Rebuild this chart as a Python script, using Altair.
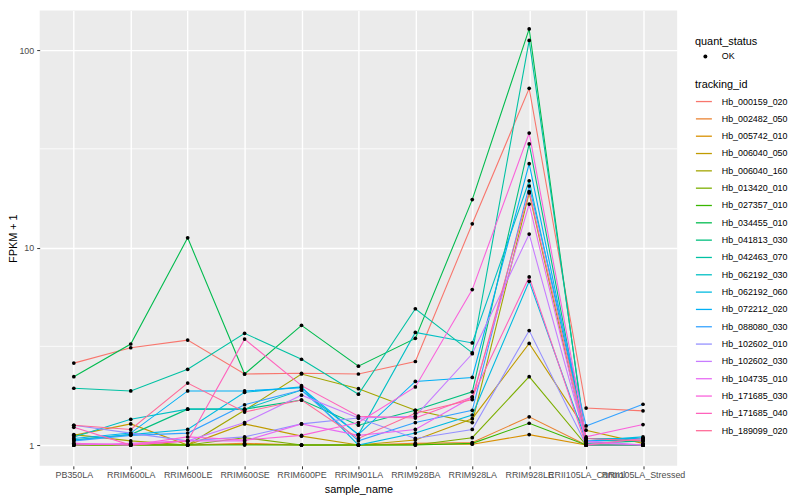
import math
import altair as alt
import pandas as pd

samples = ["PB350LA", "RRIM600LA", "RRIM600LE", "RRIM600SE", "RRIM600PE", "RRIM901LA",
           "RRIM928BA", "RRIM928LA", "RRIM928LE", "RRII105LA_Control", "RRII105LA_Stressed"]

tracking_ids = ["Hb_000159_020", "Hb_002482_050", "Hb_005742_010", "Hb_006040_050",
                "Hb_006040_160", "Hb_013420_010", "Hb_027357_010", "Hb_034455_010",
                "Hb_041813_030", "Hb_042463_070", "Hb_062192_030", "Hb_062192_060",
                "Hb_072212_020", "Hb_088080_030", "Hb_102602_010", "Hb_102602_030",
                "Hb_104735_010", "Hb_171685_030", "Hb_171685_040", "Hb_189099_020"]

# FPKM + 1 per tracking id, in sample order
s000159_020 = [2.60, 3.11, 3.40, 2.29, 2.31, 2.29, 2.65, 13.2, 64.0, 1.54, 1.49]
s002482_050 = [1.00, 1.01, 1.00, 1.02, 1.00, 1.00, 1.02, 1.03, 1.39, 1.00, 1.00]
s005742_010 = [1.00, 1.00, 1.00, 1.01, 1.00, 1.00, 1.01, 1.01, 1.13, 1.00, 1.00]
s006040_050 = [1.12, 1.28, 1.00, 1.28, 1.11, 1.00, 1.06, 1.36, 3.27, 1.19, 1.02]
s006040_160 = [1.13, 1.05, 1.00, 1.50, 2.29, 1.93, 1.50, 1.30, 18.9, 1.00, 1.00]
s013420_010 = [1.00, 1.00, 1.00, 1.09, 1.00, 1.00, 1.00, 1.09, 2.22, 1.00, 1.00]
s027357_010 = [1.00, 1.00, 1.00, 1.00, 1.00, 1.00, 1.00, 1.02, 1.29, 1.00, 1.00]
s034455_010 = [2.22, 3.25, 11.2, 2.29, 4.04, 2.51, 3.47, 17.5, 128.0, 1.00, 1.00]
s041813_030 = [1.06, 1.13, 1.52, 1.52, 1.69, 1.26, 1.50, 1.86, 33.5, 1.02, 1.05]
s042463_070 = [1.94, 1.88, 2.42, 3.68, 2.72, 1.81, 4.90, 2.93, 112.0, 1.05, 1.06]
s062192_030 = [1.10, 1.35, 1.52, 1.52, 1.90, 1.13, 3.72, 3.29, 21.8, 1.08, 1.08]
s062192_060 = [1.06, 1.13, 1.20, 1.85, 1.97, 1.00, 1.15, 1.42, 6.75, 1.05, 1.10]
s072212_020 = [1.08, 1.15, 1.88, 1.88, 1.95, 1.13, 2.10, 2.20, 26.6, 1.05, 1.08]
s088080_030 = [1.05, 1.12, 1.15, 1.60, 1.90, 1.05, 1.30, 1.50, 20.5, 1.25, 1.61]
s102602_010 = [1.26, 1.15, 1.05, 1.10, 1.28, 1.37, 1.08, 1.20, 3.80, 1.00, 1.00]
s102602_030 = [1.02, 1.00, 1.05, 1.30, 1.79, 1.37, 1.40, 2.90, 11.7, 1.05, 1.00]
s104735_010 = [1.00, 1.02, 1.05, 1.05, 1.28, 1.12, 1.20, 1.75, 16.6, 1.03, 1.00]
s171685_030 = [1.02, 1.00, 1.10, 1.06, 1.12, 1.30, 1.97, 6.13, 38.0, 1.10, 1.27]
s171685_040 = [1.23, 1.00, 1.05, 3.44, 2.00, 1.40, 1.37, 1.75, 7.10, 1.00, 1.08]
s189099_020 = [1.26, 1.20, 2.06, 1.47, 1.69, 1.08, 1.45, 1.70, 19.2, 1.08, 1.05]

series = [s000159_020, s002482_050, s005742_010, s006040_050, s006040_160, s013420_010,
          s027357_010, s034455_010, s041813_030, s042463_070, s062192_030, s062192_060,
          s072212_020, s088080_030, s102602_010, s102602_030, s104735_010, s171685_030,
          s171685_040, s189099_020]

y_ticks = [1, 10, 100]
y_minor = [3.1623, 31.623]


def hcl_hex(h, c=100.0, l=65.0):
    Xn, Yn, Zn = 95.047, 100.0, 108.883
    U = c * math.cos(math.radians(h))
    V = c * math.sin(math.radians(h))
    Y = Yn * ((l + 16) / 116) ** 3
    un = 4 * Xn / (Xn + 15 * Yn + 3 * Zn)
    vn = 9 * Yn / (Xn + 15 * Yn + 3 * Zn)
    u = U / (13 * l) + un
    v = V / (13 * l) + vn
    X = 9.0 * Y * u / (4 * v)
    Z = -X / 3 - 5 * Y + 3 * Y / v
    X, Y, Z = X / 100, Y / 100, Z / 100
    rgb = [3.240479 * X - 1.537150 * Y - 0.498535 * Z,
           -0.969256 * X + 1.875992 * Y + 0.041556 * Z,
           0.055648 * X - 0.204043 * Y + 1.057311 * Z]
    out = []
    for ch in rgb:
        ch = 12.92 * ch if ch <= 0.0031308 else 1.055 * ch ** (1 / 2.4) - 0.055
        out.append(int(round(min(max(ch, 0), 1) * 255)))
    return "#%02X%02X%02X" % tuple(out)


n = len(tracking_ids)
palette = [hcl_hex(15 + 360.0 * i / n) for i in range(n)]

rows = []
for tid, vals in zip(tracking_ids, series):
    for s, v in zip(samples, vals):
        rows.append({"tracking_id": tid, "sample_name": s, "fpkm1": v, "quant_status": "OK"})
df = pd.DataFrame(rows)

FONT = "Liberation Sans"

x_enc = alt.X("sample_name:N", sort=samples, title="sample_name",
              scale=alt.Scale(type="point", padding=0.6),
              axis=alt.Axis(labelAngle=0, labelOverlap=False, labelBound=False,
                            grid=True, gridColor="white", gridWidth=1.4,
                            domain=False, tickColor="#333333", tickSize=3,
                            labelColor="#4D4D4D", labelFontSize=9, labelPadding=2,
                            titleFontSize=11, titleColor="black", titleFontWeight="normal",
                            titlePadding=4, labelFont=FONT, titleFont=FONT))
y_scale = alt.Scale(type="log", domain=[0.785, 158.7], nice=False, zero=False)
y_enc = alt.Y("fpkm1:Q", title="FPKM + 1", scale=y_scale,
              axis=alt.Axis(values=y_ticks, format="d", grid=True, gridColor="white",
                            gridWidth=1.4, domain=False, tickColor="#333333", tickSize=3,
                            labelColor="#4D4D4D", labelFontSize=9, labelPadding=3,
                            titleFontSize=11, titleColor="black", titleFontWeight="normal",
                            titlePadding=0, labelFont=FONT, titleFont=FONT))

minor = alt.Chart(pd.DataFrame({"v": y_minor})).mark_rule(color="white", strokeWidth=0.8).encode(
    y=alt.Y("v:Q", scale=y_scale)
)

lines = alt.Chart(df).mark_line(strokeWidth=1.1).encode(
    x=x_enc,
    y=y_enc,
    color=alt.Color("tracking_id:N", title="tracking_id",
                    scale=alt.Scale(domain=tracking_ids, range=palette),
                    legend=alt.Legend(orient="none", legendX=662, legendY=69,
                                      symbolType="stroke", symbolSize=260,
                                      symbolStrokeWidth=1.3, rowPadding=3.5,
                                      labelFontSize=9, labelColor="black", labelOffset=9,
                                      titleFontSize=11, titleColor="black",
                                      titleFontWeight="normal", titlePadding=3,
                                      labelFont=FONT, titleFont=FONT, padding=0)),
    detail="tracking_id:N",
)

points = alt.Chart(df).mark_point(filled=True, color="black", size=14, opacity=1).encode(
    x=alt.X("sample_name:N", sort=samples),
    y=alt.Y("fpkm1:Q", scale=y_scale),
    shape=alt.Shape("quant_status:N", title="quant_status",
                    scale=alt.Scale(range=["circle"]),
                    legend=alt.Legend(orient="none", legendX=662, legendY=26,
                                      symbolSize=16, symbolFillColor="black",
                                      symbolStrokeColor="black", symbolOffset=6,
                                      labelOffset=12, rowPadding=0,
                                      labelFontSize=9, labelColor="black",
                                      titleFontSize=11, titleColor="black",
                                      titleFontWeight="normal", titlePadding=5,
                                      labelFont=FONT, titleFont=FONT, padding=0)),
)

chart = alt.layer(minor, lines, points).properties(
    width=644, height=460,
    autosize=alt.AutoSizeParams(type="none"),
    padding={"left": 32, "top": 0, "right": 116, "bottom": 32},
    background="white",
).configure_view(fill="#EBEBEB", stroke=None)

chart.save("out.html", embed_options={"renderer": "svg", "actions": False})
